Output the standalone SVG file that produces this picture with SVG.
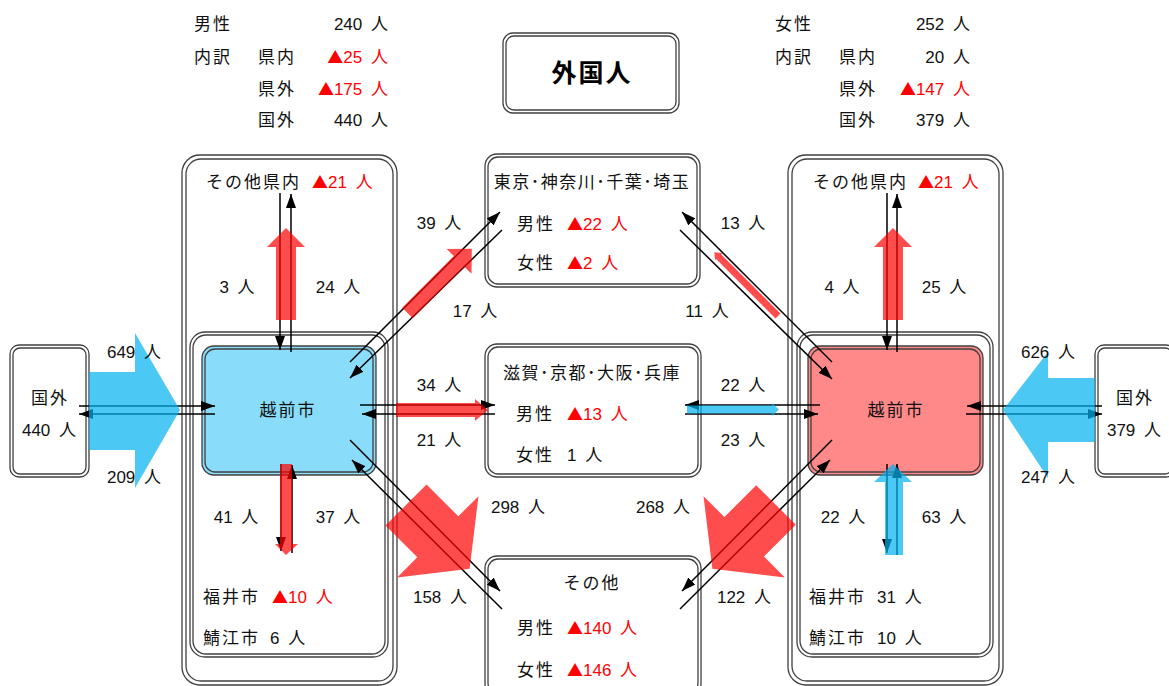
<svg xmlns="http://www.w3.org/2000/svg" width="1169" height="686" viewBox="0 0 1169 686">
<style>
.t{font-family:'Liberation Sans','Noto Sans CJK JP',sans-serif;font-size:17px;fill:#111;word-spacing:4px}
.j{letter-spacing:2px}
.d{letter-spacing:1.5px}
.r{fill:#ff0000}
.m{text-anchor:middle}
.e{text-anchor:end}
.k{font-family:'Noto Sans CJK JP',sans-serif;font-size:16px}
.bx{fill:none;stroke:#404040;stroke-width:1.3}
.wf{fill:#fff;stroke:#404040;stroke-width:1.3}
.ln{fill:none;stroke:#000;stroke-width:1.5;marker-end:url(#ah)}
.red{fill:#ff0000;fill-opacity:.7}
.blu{fill:#00b0f0;fill-opacity:.7}
.ttl{font-family:'Liberation Sans','Noto Sans CJK JP',sans-serif;font-size:25px;font-weight:bold;fill:#000;letter-spacing:2px}
</style>
<defs>
<marker id="ah" markerUnits="userSpaceOnUse" markerWidth="14" markerHeight="10" refX="14" refY="5" orient="auto"><path d="M0,0 L14,5 L0,10 z" fill="#000"/></marker>
</defs>
<rect width="1169" height="686" fill="#fff"/>

<g id="summary-male">
<text class="t j" x="194" y="30">男性</text><text class="t e" x="388" y="30">240 人</text>
<text class="t j" x="194" y="63">内訳</text><text class="t j" x="258" y="63">県内</text><text class="t e r" x="388" y="63"><tspan class="k">▲</tspan>25 人</text>
<text class="t j" x="258" y="95">県外</text><text class="t e r" x="388" y="95"><tspan class="k">▲</tspan>175 人</text>
<text class="t j" x="258" y="126">国外</text><text class="t e" x="388" y="126">440 人</text>
</g>
<g id="summary-female">
<text class="t j" x="775" y="30">女性</text><text class="t e" x="970" y="30">252 人</text>
<text class="t j" x="775" y="63">内訳</text><text class="t j" x="839" y="63">県内</text><text class="t e" x="970" y="63">20 人</text>
<text class="t j" x="839" y="95">県外</text><text class="t e r" x="970" y="95"><tspan class="k">▲</tspan>147 人</text>
<text class="t j" x="839" y="126">国外</text><text class="t e" x="970" y="126">379 人</text>
</g>

<g id="title">
<rect class="wf" x="503" y="33" width="176" height="80" rx="10"/>
<rect class="bx" x="506" y="36" width="170" height="74" rx="8"/>
<text class="ttl m" x="592" y="82">外国人</text>
</g>

<g id="left-region">
<rect class="bx" x="182" y="155" width="215" height="530" rx="18"/>
<rect class="bx" x="186" y="159" width="207" height="522" rx="15"/>
<rect class="bx" x="190" y="332" width="198" height="325" rx="15"/>
<rect class="bx" x="193" y="335" width="192" height="319" rx="13"/>
<text class="t j" x="206" y="188">その他県内</text><text class="t r" x="312" y="188"><tspan class="k">▲</tspan>21 人</text>
<text class="t j" x="203" y="603">福井市</text><text class="t r" x="272" y="603"><tspan class="k">▲</tspan>10 人</text>
<text class="t j" x="203" y="644">鯖江市</text><text class="t" x="270" y="644">6 人</text>
</g>
<g id="left-echizen">
<rect x="202" y="346" width="174" height="129" rx="12" fill="#89ddfb" stroke="#404040" stroke-width="1.3"/>
<rect class="bx" x="205" y="349" width="168" height="123" rx="10"/>
<text class="t j m" x="288" y="416">越前市</text>
</g>

<g id="right-region">
<rect class="bx" x="788" y="155" width="215" height="530" rx="18"/>
<rect class="bx" x="792" y="159" width="207" height="522" rx="15"/>
<rect class="bx" x="797" y="332" width="196" height="325" rx="15"/>
<rect class="bx" x="800" y="335" width="190" height="319" rx="13"/>
<text class="t j" x="813" y="188">その他県内</text><text class="t r" x="918" y="188"><tspan class="k">▲</tspan>21 人</text>
<text class="t j" x="809" y="603">福井市</text><text class="t" x="877" y="603">31 人</text>
<text class="t j" x="809" y="644">鯖江市</text><text class="t" x="877" y="644">10 人</text>
</g>
<g id="right-echizen">
<rect x="808" y="346" width="175" height="129" rx="12" fill="#ff8888" stroke="#404040" stroke-width="1.3"/>
<rect class="bx" x="811" y="349" width="169" height="123" rx="10"/>
<text class="t j m" x="896" y="416">越前市</text>
</g>

<g id="left-abroad">
<rect class="wf" x="10" y="345" width="79" height="132" rx="9"/>
<rect class="bx" x="13" y="348" width="73" height="126" rx="7"/>
<text class="t j m" x="50" y="404">国外</text>
<text class="t m" x="49" y="436">440 人</text>
</g>
<g id="right-abroad">
<rect class="wf" x="1095" y="345" width="80" height="132" rx="9"/>
<rect class="bx" x="1098" y="348" width="74" height="126" rx="7"/>
<text class="t j m" x="1135" y="404">国外</text>
<text class="t m" x="1134" y="436">379 人</text>
</g>

<g id="tokyo">
<rect class="wf" x="485" y="154" width="215" height="133" rx="12"/>
<rect class="bx" x="488" y="157" width="209" height="127" rx="10"/>
<text class="t d m" x="592" y="188">東京･神奈川･千葉･埼玉</text>
<text class="t j" x="517" y="230">男性</text><text class="t r" x="567" y="230"><tspan class="k">▲</tspan>22 人</text>
<text class="t j" x="517" y="269">女性</text><text class="t r" x="567" y="269"><tspan class="k">▲</tspan>2 人</text>
</g>
<g id="kansai">
<rect class="wf" x="485" y="344" width="216" height="133" rx="12"/>
<rect class="bx" x="488" y="347" width="210" height="127" rx="10"/>
<text class="t d m" x="592" y="379">滋賀･京都･大阪･兵庫</text>
<text class="t j" x="516" y="420">男性</text><text class="t r" x="567" y="420"><tspan class="k">▲</tspan>13 人</text>
<text class="t j" x="516" y="461">女性</text><text class="t" x="567" y="461">1 人</text>
</g>
<g id="other">
<rect class="wf" x="485" y="556" width="216" height="140" rx="12"/>
<rect class="bx" x="488" y="559" width="210" height="134" rx="10"/>
<text class="t j m" x="592" y="589">その他</text>
<text class="t j" x="517" y="634">男性</text><text class="t r" x="567" y="634"><tspan class="k">▲</tspan>140 人</text>
<text class="t j" x="517" y="676">女性</text><text class="t r" x="567" y="676"><tspan class="k">▲</tspan>146 人</text>
</g>

<g id="connectors">
<line class="ln" x1="280" y1="193" x2="280" y2="350"/>
<line class="ln" x1="291" y1="352" x2="291" y2="194"/>
<line class="ln" x1="281" y1="464" x2="281" y2="551"/>
<line class="ln" x1="292" y1="553" x2="292" y2="465"/>
<line class="ln" x1="887" y1="193" x2="887" y2="350"/>
<line class="ln" x1="897" y1="352" x2="897" y2="194"/>
<line class="ln" x1="887" y1="464" x2="887" y2="553"/>
<line class="ln" x1="897" y1="555" x2="897" y2="464"/>
<line class="ln" x1="79" y1="406" x2="215" y2="406"/>
<line class="ln" x1="215" y1="414" x2="79" y2="414"/>
<line class="ln" x1="1102" y1="406" x2="967" y2="406"/>
<line class="ln" x1="966" y1="414" x2="1102" y2="414"/>
<line class="ln" x1="360" y1="405" x2="495" y2="405"/>
<line class="ln" x1="495" y1="414" x2="362" y2="414"/>
<line class="ln" x1="820" y1="405" x2="685" y2="405"/>
<line class="ln" x1="685" y1="414" x2="818" y2="414"/>
<line class="ln" x1="350" y1="362" x2="500" y2="212"/>
<line class="ln" x1="502" y1="230" x2="350" y2="378"/>
<line class="ln" x1="832" y1="362" x2="682" y2="212"/>
<line class="ln" x1="680" y1="230" x2="832" y2="379"/>
<line class="ln" x1="350" y1="440" x2="500" y2="591"/>
<line class="ln" x1="502" y1="609" x2="352" y2="460"/>
<line class="ln" x1="832" y1="440" x2="682" y2="591"/>
<line class="ln" x1="680" y1="609" x2="830" y2="460"/>

<polygon class="red" points="276,320 276,247 267,247 286,228 305,247 296,247 296,320"/>
<polygon class="red" points="883,320 883,247 874,247 893,228 912,247 903,247 903,320"/>
<polygon class="red" points="280,464 292,464 292,544 298,544 286,555 275,544 280,544"/>
<polygon class="blu" points="885,555 885,482 874,482 893,464 912,482 903,482 903,555"/>
<polygon class="blu" points="89,372 135,372 135,333 180,410 135,488 135,450 89,450"/>
<polygon class="blu" points="1095,378 1048,378 1048,352 1003,410 1048,478 1048,442 1095,442"/>
<polygon class="red" transform="translate(407.5,313) rotate(-45)" points="0,-7.5 73,-7.5 73,-17.5 91,0 73,17.5 73,7.5 0,7.5"/>
<polygon class="red" transform="translate(778,316) rotate(-135)" points="0,-3.5 84,-3.5 84,-5 90,0 84,5 84,3.5 0,3.5"/>
<polygon class="red" points="396,403 475,403 475,399 488,410 475,421 475,417 396,417"/>
<polygon class="blu" points="687,405.5 772,405.5 772,403 779,409.5 772,416 772,413.5 687,413.5"/>
<polygon class="red" transform="translate(406,505) rotate(45)" points="0,-29 45,-29 45,-57.5 90,0 45,57.5 45,29 0,29"/>
<polygon class="red" transform="translate(776,505) rotate(135)" points="0,-28 45,-28 45,-57.5 90,0 45,57.5 45,28 0,28"/>
</g>

<g id="flow-labels">
<text class="t m" x="237" y="293">3 人</text>
<text class="t m" x="338" y="293">24 人</text>
<text class="t m" x="842" y="293">4 人</text>
<text class="t m" x="944" y="293">25 人</text>
<text class="t m" x="236" y="523">41 人</text>
<text class="t m" x="338" y="523">37 人</text>
<text class="t m" x="843" y="523">22 人</text>
<text class="t m" x="944" y="523">63 人</text>
<text class="t m" x="134" y="358">649 人</text>
<text class="t m" x="134" y="483">209 人</text>
<text class="t m" x="1048" y="358">626 人</text>
<text class="t m" x="1048" y="483">247 人</text>
<text class="t m" x="439" y="229">39 人</text>
<text class="t m" x="475" y="317">17 人</text>
<text class="t m" x="743" y="229">13 人</text>
<text class="t m" x="707" y="317">11 人</text>
<text class="t m" x="439" y="391">34 人</text>
<text class="t m" x="439" y="446">21 人</text>
<text class="t m" x="743" y="391">22 人</text>
<text class="t m" x="743" y="446">23 人</text>
<text class="t m" x="518" y="513">298 人</text>
<text class="t m" x="663" y="513">268 人</text>
<text class="t m" x="440" y="603">158 人</text>
<text class="t m" x="744" y="603">122 人</text>
</g>
</svg>
